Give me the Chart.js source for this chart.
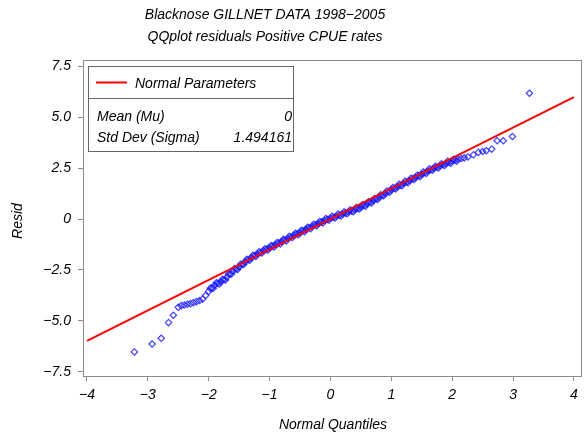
<!DOCTYPE html>
<html>
<head>
<meta charset="utf-8">
<script src="https://cdn.jsdelivr.net/npm/chart.js@4/dist/chart.umd.min.js"></script>
<style>
html,body{margin:0;padding:0;background:#fff;}
#wrap{width:587px;height:437px;}
</style>
</head>
<body>
<div id="wrap"><canvas id="c" width="587" height="437"></canvas></div>
<script>
// ---- Data ----
const titleLines = ["Blacknose GILLNET DATA 1998\u22122005", "QQplot residuals Positive CPUE rates"];
const xAxisTitle = "Normal Quantiles";
const yAxisTitle = "Resid";
const xTicks = [-4, -3, -2, -1, 0, 1, 2, 3, 4];
const yTicks = [-7.5, -5.0, -2.5, 0, 2.5, 5.0, 7.5];
const legendTitle = "Normal Parameters";
const paramNames = ["Mean (Mu)", "Std Dev (Sigma)"];
const paramValues = ["0", "1.494161"];

// normal reference line (end points)
const lineX = [-4, 4];
const lineY = [-5.977, 5.977];

// QQ points: normal quantiles and residuals
const quantiles = [
 -3.22,-2.93,-2.78,-2.66,-2.58,-2.50,
 -2.45,-2.40,-2.35,-2.30,-2.25,-2.20,-2.15,-2.10,-2.05,-2.00,
 -1.95,-1.90,-1.85,-1.80,-1.75,-1.70,-1.65,-1.60,-1.55,-1.50,
 -1.45,-1.40,-1.35,-1.30,-1.25,-1.20,-1.15,-1.10,-1.05,-1.00,
 -0.95,-0.90,-0.85,-0.80,-0.75,-0.70,-0.65,-0.60,-0.55,-0.50,
 -0.45,-0.40,-0.35,-0.30,-0.25,-0.20,-0.15,-0.10,-0.05,0.00,
 0.05,0.10,0.15,0.20,0.25,0.30,0.35,0.40,0.45,0.50,
 0.55,0.60,0.65,0.70,0.75,0.80,0.85,0.90,0.95,1.00,
 1.05,1.10,1.15,1.20,1.25,1.30,1.35,1.40,1.45,1.50,
 1.55,1.60,1.65,1.70,1.75,1.80,1.85,1.90,1.95,2.00,
 2.05,2.10,2.15,2.20,
 2.26,2.35,2.43,2.50,2.56,2.65,2.74,2.84,2.99,3.27,
 -1.975,-1.925,-1.875,-1.825,-1.775,-1.725,-1.675,-1.625,-1.575,-1.525,
 -1.475,-1.425,-1.375,-1.325,-1.275,-1.225,-1.175,-1.125,-1.075,-1.025,
 -0.975,-0.925,-0.875,-0.825,-0.775,-0.725,-0.675,-0.625,-0.575,-0.525,
 -0.475,-0.425,-0.375,-0.325,-0.275,-0.225,-0.175,-0.125,-0.075,-0.025,
 0.025,0.075,0.125,0.175,0.225,0.275,0.325,0.375,0.425,0.475,
 0.525,0.575,0.625,0.675,0.725,0.775,0.825,0.875,0.925,0.975,
 1.025,1.075,1.125,1.175,1.225,1.275,1.325,1.375,1.425,1.475,
 1.525,1.575,1.625,1.675,1.725,1.775,1.825,1.875,1.925,1.975,
 2.025,2.075
];
const residuals = [
 -6.52,-6.13,-5.85,-5.08,-4.72,-4.33,
 -4.25,-4.22,-4.18,-4.15,-4.10,-4.05,-4.00,-3.92,-3.75,-3.55,
 -3.38,-3.25,-3.15,-3.08,-2.98,-2.85,-2.70,-2.55,-2.45,-2.35,
 -2.22,-2.10,-2.00,-1.90,-1.80,-1.72,-1.64,-1.56,-1.49,-1.41,
 -1.33,-1.26,-1.18,-1.11,-1.03,-0.96,-0.88,-0.80,-0.73,-0.66,
 -0.58,-0.51,-0.43,-0.36,-0.29,-0.22,-0.15,-0.08,-0.02,0.04,
 0.09,0.14,0.19,0.25,0.30,0.35,0.40,0.46,0.52,0.59,
 0.66,0.74,0.82,0.90,0.98,1.07,1.16,1.25,1.34,1.43,
 1.51,1.59,1.66,1.74,1.81,1.89,1.97,2.04,2.12,2.20,
 2.27,2.35,2.42,2.49,2.55,2.61,2.67,2.73,2.78,2.83,
 2.88,2.93,2.97,3.00,
 3.04,3.15,3.27,3.31,3.35,3.43,3.84,3.84,4.05,6.17,
 -3.40,-3.39,-3.13,-3.19,-2.96,-2.99,-2.71,-2.70,-2.43,-2.47,
 -2.22,-2.23,-1.98,-2.02,-1.78,-1.83,-1.61,-1.67,-1.46,-1.52,
 -1.30,-1.37,-1.15,-1.22,-1.00,-1.07,-0.85,-0.91,-0.70,-0.77,
 -0.55,-0.62,-0.40,-0.47,-0.26,-0.33,-0.12,-0.19,0.02,-0.06,
 0.13,0.05,0.24,0.15,0.35,0.26,0.45,0.36,0.56,0.49,
 0.70,0.63,0.85,0.79,1.01,0.96,1.19,1.14,1.37,1.32,
 1.54,1.48,1.70,1.63,1.85,1.78,2.00,1.94,2.15,2.09,
 2.31,2.24,2.46,2.39,2.59,2.51,2.71,2.63,2.83,2.74,
 2.93,2.84
];

// ---- Chart ----
const FONT_FAMILY = '"Liberation Sans", Arial, sans-serif';
const FS = 14;
const AXIS_GRAY = '#8a8a8a';

function fmtY(v){ if (v === 0) return '0'; return (v < 0 ? '\u2212' : '') + Math.abs(v).toFixed(1); }
function fmtX(v){ return (v < 0 ? '\u2212' : '') + Math.abs(v); }

const decor = {
  id: 'decor',
  afterDatasetsDraw(chart){
    const ctx = chart.ctx, a = chart.chartArea;
    ctx.save();
    ctx.strokeStyle = AXIS_GRAY; ctx.lineWidth = 1;
    ctx.strokeRect(Math.round(a.left)+0.5, Math.round(a.top)+0.5, Math.round(a.right-a.left)-1, Math.round(a.bottom-a.top));
    ctx.restore();
  },
  afterDraw(chart){
    const ctx = chart.ctx;
    ctx.save();
    ctx.fillStyle = '#000';
    ctx.font = 'italic ' + FS + 'px ' + FONT_FAMILY;
    ctx.textBaseline = 'middle';
    ctx.textAlign = 'center';
    ctx.fillText(titleLines[0], 265, 15);
    ctx.fillText(titleLines[1], 265, 37.5);
    ctx.fillText(xAxisTitle, 333, 425);
    ctx.save();
    ctx.translate(18, 221);
    ctx.rotate(-Math.PI/2);
    ctx.fillText(yAxisTitle, 0, 0);
    ctx.restore();
    // legend / inset box
    const L = 88.5, R = 293.5, T = 66.5, B = 151.5, D = 98.5;
    ctx.fillStyle = '#fff';
    ctx.fillRect(L, T, R-L, B-T);
    ctx.strokeStyle = '#666'; ctx.lineWidth = 1;
    ctx.strokeRect(L, T, R-L, B-T);
    ctx.beginPath(); ctx.moveTo(L, D); ctx.lineTo(R, D); ctx.stroke();
    ctx.strokeStyle = '#ff0000'; ctx.lineWidth = 2;
    ctx.beginPath(); ctx.moveTo(96, 82.5); ctx.lineTo(127, 82.5); ctx.stroke();
    ctx.fillStyle = '#000';
    ctx.textAlign = 'left';
    ctx.fillText(legendTitle, 135, 84.5);
    ctx.fillText(paramNames[0], 97, 117);
    ctx.fillText(paramNames[1], 97, 138.5);
    ctx.textAlign = 'right';
    ctx.fillText(paramValues[0], 292, 117);
    ctx.fillText(paramValues[1], 292, 138.5);
    ctx.restore();
  }
};

const pts = quantiles.map((q, i) => ({x: q, y: residuals[i]}));
const linePts = lineX.map((x, i) => ({x: x, y: lineY[i]}));

new Chart(document.getElementById('c'), {
  type: 'scatter',
  data: {
    datasets: [
      {
        label: legendTitle,
        type: 'line',
        data: linePts,
        borderColor: '#ff0000',
        borderWidth: 2,
        pointRadius: 0,
        fill: false,
        order: 0
      },
      {
        label: 'Resid',
        data: pts,
        pointStyle: 'rectRot',
        pointRadius: 3.2,
        pointBorderWidth: 1.2,
        pointBorderColor: 'rgba(20,20,255,0.8)',
        pointBackgroundColor: 'rgba(0,0,0,0)',
        order: 1
      }
    ]
  },
  options: {
    responsive: false,
    animation: false,
    events: [],
    layout: { padding: { top: 60, right: 2, left: 0, bottom: 0 } },
    plugins: { legend: { display: false }, title: { display: false }, tooltip: { enabled: false } },
    scales: {
      x: {
        type: 'linear',
        min: -4.065, max: 4.13,
        afterBuildTicks: s => { s.ticks = xTicks.map(v => ({value: v})); },
        afterFit: s => { s.height = 61; },
        ticks: { callback: v => fmtX(v), color: '#000', padding: 6, maxRotation: 0,
                 font: { family: FONT_FAMILY, size: FS, style: 'italic' } },
        grid: { drawOnChartArea: false, drawTicks: true, tickLength: 5, color: AXIS_GRAY },
        border: { display: true, color: AXIS_GRAY }
      },
      y: {
        type: 'linear',
        min: -7.7, max: 7.8,
        afterBuildTicks: s => { s.ticks = yTicks.map(v => ({value: v})); },
        afterFit: s => { s.width = 83; },
        ticks: { callback: v => fmtY(v), color: '#000', padding: 7,
                 font: { family: FONT_FAMILY, size: FS, style: 'italic' } },
        grid: { drawOnChartArea: false, drawTicks: true, tickLength: 5, color: AXIS_GRAY },
        border: { display: true, color: AXIS_GRAY }
      }
    }
  },
  plugins: [decor]
});
</script>
</body>
</html>
